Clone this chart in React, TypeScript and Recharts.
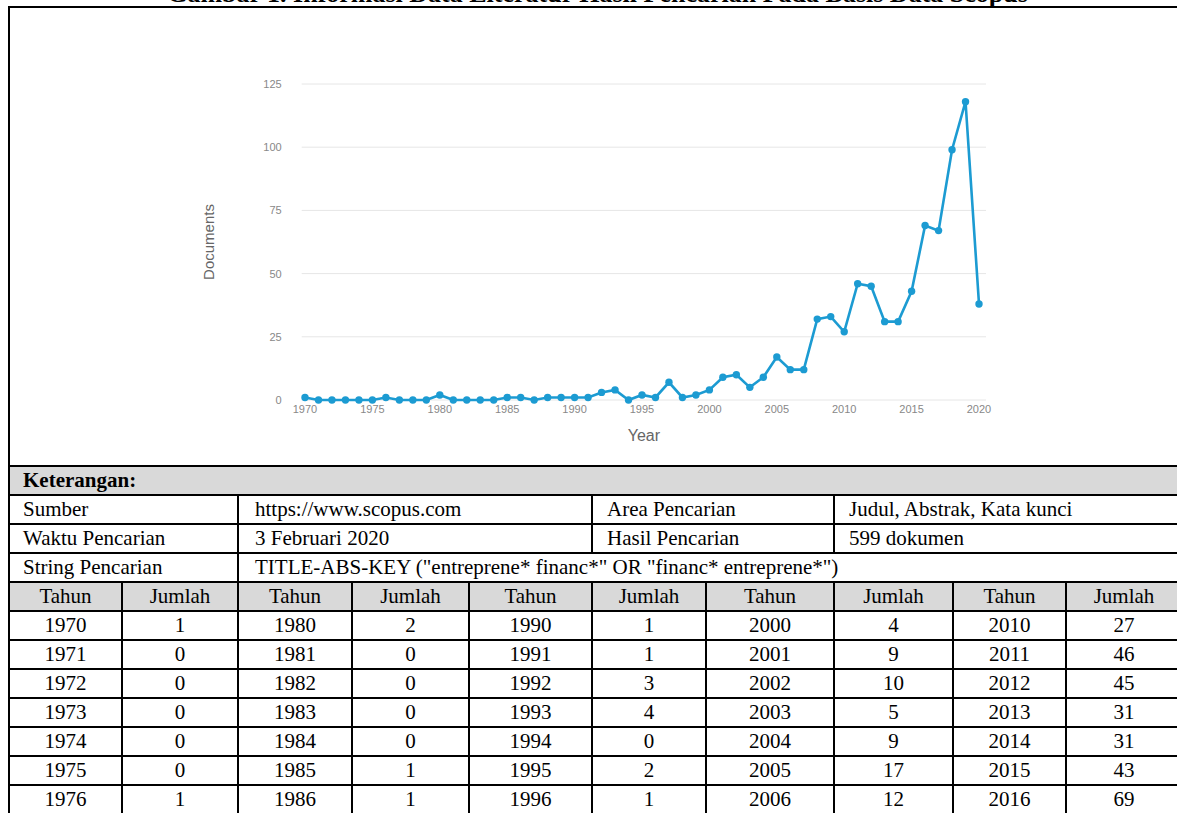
import React from 'react';
import { LineChart, Line, XAxis, YAxis, CartesianGrid } from 'recharts';

// ---------- data ----------
const years = [
  1970, 1971, 1972, 1973, 1974, 1975, 1976, 1977, 1978, 1979,
  1980, 1981, 1982, 1983, 1984, 1985, 1986, 1987, 1988, 1989,
  1990, 1991, 1992, 1993, 1994, 1995, 1996, 1997, 1998, 1999,
  2000, 2001, 2002, 2003, 2004, 2005, 2006, 2007, 2008, 2009,
  2010, 2011, 2012, 2013, 2014, 2015, 2016, 2017, 2018, 2019,
  2020,
];
const documents = [
  1, 0, 0, 0, 0, 0, 1, 0, 0, 0,
  2, 0, 0, 0, 0, 1, 1, 0, 1, 1,
  1, 1, 3, 4, 0, 2, 1, 7, 1, 2,
  4, 9, 10, 5, 9, 17, 12, 12, 32, 33,
  27, 46, 45, 31, 31, 43, 69, 67, 99, 118,
  38,
];
const xTicks = [1970, 1975, 1980, 1985, 1990, 1995, 2000, 2005, 2010, 2015, 2020];
const yTicks = [0, 25, 50, 75, 100, 125];

const titleText = 'Gambar 1. Informasi Data Literatur Hasil Pencarian Pada Basis Data Scopus';
const infoHeader = 'Keterangan:';
const infoLabels = ['Sumber', 'Waktu Pencarian', 'String Pencarian'];
const infoValues = ['https://www.scopus.com', '3 Februari 2020', 'TITLE-ABS-KEY ("entreprene* financ*" OR "financ* entreprene*")'];
const infoLabels2 = ['Area Pencarian', 'Hasil Pencarian'];
const infoValues2 = ['Judul, Abstrak, Kata kunci', '599 dokumen'];
const tableHeaders = ['Tahun', 'Jumlah'];
const tableDecades = [1970, 1980, 1990, 2000, 2010];
const tableRowOffsets = [0, 1, 2, 3, 4, 5, 6];

const chartData = years.map((y, i) => ({ year: y, documents: documents[i] }));

// ---------- layout (styles only) ----------
const colLines = [9, 122, 238, 352, 469, 592, 706, 834, 953, 1066, 1182];
const rowTop = 466;
const rowH = 29;
const serif = '"Liberation Serif", "Times New Roman", Times, serif';
const sans = '"Liberation Sans", Arial, sans-serif';
const lineColor = '#1c9bd2';

type CellProps = {
  x0: number; x1: number; y0: number; y1: number;
  bg?: string; left?: boolean; bold?: boolean; pad?: number;
  children?: React.ReactNode;
};
const Cell = ({ x0, x1, y0, y1, bg, left, bold, pad = 13, children }: CellProps) => (
  <div
    style={{
      position: 'absolute',
      left: x0 - 1,
      top: y0 - 1,
      width: x1 - x0 + 2,
      height: y1 - y0 + 2,
      boxSizing: 'border-box',
      border: '2px solid #000',
      background: bg || '#fff',
      display: 'flex',
      alignItems: 'center',
      justifyContent: left ? 'flex-start' : 'center',
      paddingLeft: left ? pad : 0,
      fontFamily: serif,
      fontSize: 21,
      fontWeight: bold ? 700 : 400,
      color: '#000',
      whiteSpace: 'nowrap',
      overflow: 'hidden',
    }}
  >
    {children}
  </div>
);

export default function App() {
  const ry = (i: number) => rowTop + i * rowH;
  const cells: React.ReactNode[] = [];
  cells.push(
    <Cell key="ket" x0={colLines[0]} x1={colLines[10]} y0={ry(0)} y1={ry(1)} bg="#d9d9d9" left bold>
      {infoHeader}
    </Cell>
  );
  for (let i = 0; i < 2; i++) {
    cells.push(
      <Cell key={'l' + i} x0={colLines[0]} x1={colLines[2]} y0={ry(1 + i)} y1={ry(2 + i)} left>
        {infoLabels[i]}
      </Cell>,
      <Cell key={'v' + i} x0={colLines[2]} x1={colLines[5]} y0={ry(1 + i)} y1={ry(2 + i)} left pad={16}>
        {infoValues[i]}
      </Cell>,
      <Cell key={'l2' + i} x0={colLines[5]} x1={colLines[7]} y0={ry(1 + i)} y1={ry(2 + i)} left pad={14}>
        {infoLabels2[i]}
      </Cell>,
      <Cell key={'v2' + i} x0={colLines[7]} x1={colLines[10]} y0={ry(1 + i)} y1={ry(2 + i)} left pad={14}>
        {infoValues2[i]}
      </Cell>
    );
  }
  cells.push(
    <Cell key="sl" x0={colLines[0]} x1={colLines[2]} y0={ry(3)} y1={ry(4)} left>
      {infoLabels[2]}
    </Cell>,
    <Cell key="sv" x0={colLines[2]} x1={colLines[10]} y0={ry(3)} y1={ry(4)} left pad={16}>
      {infoValues[2]}
    </Cell>
  );
  for (let c = 0; c < 10; c++) {
    cells.push(
      <Cell key={'h' + c} x0={colLines[c]} x1={colLines[c + 1]} y0={ry(4)} y1={ry(5)} bg="#d9d9d9">
        {tableHeaders[c % 2]}
      </Cell>
    );
  }
  tableRowOffsets.forEach((off, r) => {
    tableDecades.forEach((dec, d) => {
      const yr = dec + off;
      const idx = years.indexOf(yr);
      cells.push(
        <Cell key={`y${r}-${d}`} x0={colLines[d * 2]} x1={colLines[d * 2 + 1]} y0={ry(5 + r)} y1={ry(6 + r)}>
          {yr}
        </Cell>,
        <Cell key={`n${r}-${d}`} x0={colLines[d * 2 + 1]} x1={colLines[d * 2 + 2]} y0={ry(5 + r)} y1={ry(6 + r)}>
          {documents[idx]}
        </Cell>
      );
    });
  });

  return (
    <div
      style={{
        position: 'absolute',
        left: 0,
        top: 0,
        width: 1177,
        height: 813,
        overflow: 'hidden',
        background: '#fff',
      }}
    >
      {/* title, partly cut off at the top as in the reference */}
      <div
        style={{
          position: 'absolute',
          left: 0,
          top: -19,
          width: 1195,
          textAlign: 'center',
          fontFamily: serif,
          fontWeight: 700,
          fontSize: 26,
          lineHeight: '26px',
          color: '#000',
          whiteSpace: 'nowrap',
        }}
      >
        {titleText}
      </div>
      {/* chart box */}
      <div
        style={{
          position: 'absolute',
          left: colLines[0] - 1,
          top: 6,
          width: colLines[10] - colLines[0] + 2,
          height: rowTop - 6 + 1,
          boxSizing: 'border-box',
          border: '2px solid #000',
        }}
      />
      <div style={{ position: 'absolute', left: 0, top: 0 }}>
        <LineChart
          width={1177}
          height={460}
          data={chartData}
          margin={{ top: 84, right: 191, bottom: 19, left: 0 }}
        >
          <CartesianGrid vertical={false} stroke="#e6e6e6" strokeWidth={1} />
          <XAxis
            dataKey="year"
            type="number"
            domain={[1970, 2020]}
            ticks={xTicks}
            interval={0}
            padding={{ left: 3.3, right: 7 }}
            axisLine={false}
            tickLine={false}
            tickSize={0}
            tickMargin={5}
            height={41}
            tick={{ fontSize: 11, fill: '#888', fontFamily: sans }}
            label={{ value: 'Year', position: 'insideBottom', offset: 0, fill: '#666', fontSize: 16, fontFamily: sans }}
          />
          <YAxis
            type="number"
            domain={[0, 125]}
            ticks={yTicks}
            width={301.7}
            axisLine={false}
            tickLine={false}
            tickSize={0}
            tickMargin={20}
            tick={{ fontSize: 11, fill: '#888', fontFamily: sans }}
            label={{
              value: 'Documents',
              angle: -90,
              position: 'insideLeft',
              offset: 209,
              fill: '#666',
              fontSize: 15,
              fontFamily: sans,
              style: { textAnchor: 'middle' },
            }}
          />
          <Line
            type="linear"
            dataKey="documents"
            stroke={lineColor}
            strokeWidth={2.6}
            dot={{ r: 3.7, fill: lineColor, stroke: lineColor, strokeWidth: 0 }}
            activeDot={false}
            isAnimationActive={false}
          />
        </LineChart>
      </div>
      {cells}
    </div>
  );
}
